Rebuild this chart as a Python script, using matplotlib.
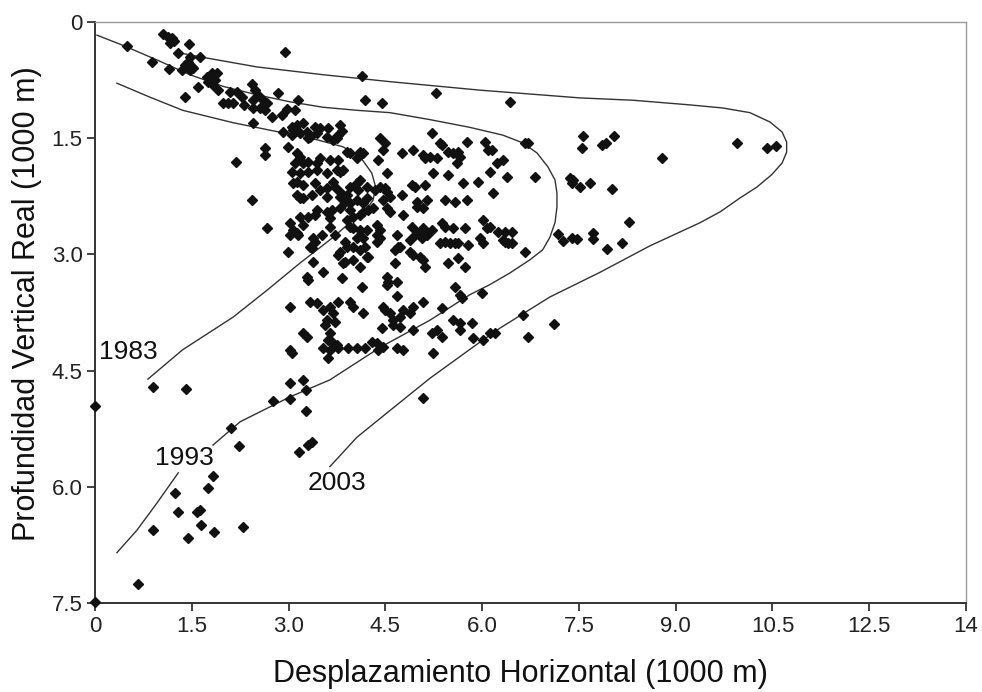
import matplotlib
matplotlib.use("Agg")
import matplotlib.pyplot as plt

plt.rcParams['font.family'] = ['Liberation Sans', 'DejaVu Sans']

# ---- data (horizontal displacement, true vertical depth), units of 1000 m ----
wells_shallow = [
    (0.50, 0.31), (0.88, 0.52), (1.15, 0.61), (1.05, 0.15), (1.13, 0.19), (1.19, 0.21),
    (1.22, 0.25), (1.16, 0.27), (1.46, 0.28), (1.29, 0.40), (1.47, 0.45), (1.44, 0.52),
    (1.39, 0.56), (1.50, 0.58), (1.35, 0.62), (1.47, 0.62), (1.52, 0.59), (1.63, 0.45),
    (2.94, 0.39), (1.39, 0.97), (1.60, 0.84), (1.74, 0.71), (1.81, 0.66), (1.89, 0.66),
    (1.75, 0.77), (1.83, 0.81), (1.91, 0.88), (1.86, 0.75), (1.98, 1.05), (2.06, 1.05),
    (2.14, 1.05), (2.09, 0.90), (2.20, 0.90), (2.28, 0.97), (2.43, 0.80), (2.48, 0.88),
    (2.53, 0.94), (2.45, 1.01), (2.60, 1.01), (2.67, 1.05), (2.45, 1.11), (2.56, 1.11),
    (2.63, 1.14), (2.31, 1.07), (2.45, 1.30), (2.74, 1.23), (2.90, 1.20), (2.98, 1.12),
    (3.10, 1.14), (2.84, 0.92), (3.15, 1.01), (4.14, 0.70), (4.18, 1.01), (4.45, 1.05),
    (5.28, 0.92), (6.43, 1.03),
]

wells_core_upper = [
    (3.05, 1.36), (3.13, 1.33), (3.22, 1.30), (3.07, 1.39), (3.18, 1.43), (3.29, 1.42),
    (3.33, 1.48), (3.41, 1.36), (3.49, 1.37), (3.61, 1.37), (3.80, 1.33), (3.83, 1.41),
    (3.75, 1.50), (2.91, 1.42), (2.99, 1.61), (2.63, 1.63), (2.63, 1.72), (2.19, 1.81),
    (2.43, 2.30), (2.67, 2.66), (4.42, 1.50), (4.49, 1.56), (4.46, 1.65), (3.05, 1.46),
    (3.30, 1.50), (3.44, 1.43), (3.60, 1.48), (3.69, 1.52), (3.77, 1.46), (3.13, 1.69),
    (3.18, 1.74), (3.10, 1.82), (3.22, 1.82), (3.30, 1.81), (3.44, 1.82), (3.49, 1.76),
    (3.64, 1.78), (3.77, 1.78), (3.91, 1.68), (3.95, 1.69), (4.11, 1.68), (4.15, 1.69),
    (4.06, 1.76), (4.39, 1.78), (4.53, 1.95), (3.05, 1.94), (3.18, 1.95), (3.30, 1.94),
    (3.44, 1.91), (3.60, 1.95), (3.75, 1.91), (3.80, 1.94), (3.84, 1.91), (4.11, 2.04),
    (4.06, 2.08), (4.22, 2.13), (4.08, 2.17), (3.07, 2.08), (3.13, 2.07), (3.22, 2.10),
    (3.41, 2.08), (3.49, 2.17), (3.60, 2.14), (3.69, 2.07), (3.72, 2.13), (3.80, 2.19),
    (3.91, 2.23), (3.95, 2.13), (4.34, 2.17), (4.42, 2.13), (4.49, 2.14), (4.53, 2.19),
    (4.57, 2.26), (4.46, 2.30), (3.13, 2.23), (3.18, 2.27), (3.22, 2.27), (3.36, 2.23),
    (3.60, 2.26), (3.80, 2.26), (3.87, 2.32), (3.95, 2.34), (4.06, 2.30), (4.15, 2.34),
    (4.22, 2.27),
]

wells_core_lower = [
    (3.44, 2.43), (3.60, 2.45), (3.67, 2.43), (3.80, 2.40), (3.95, 2.43), (4.15, 2.45),
    (4.23, 2.43), (4.31, 2.40), (4.53, 2.40), (4.57, 2.45), (3.18, 2.52), (3.30, 2.52),
    (3.41, 2.49), (3.64, 2.53), (3.91, 2.56), (4.00, 2.52), (4.11, 2.49), (3.02, 2.59),
    (3.07, 2.68), (3.13, 2.72), (3.22, 2.62), (3.64, 2.65), (3.95, 2.65), (4.00, 2.66),
    (4.11, 2.68), (4.22, 2.68), (4.37, 2.62), (4.42, 2.68), (3.02, 2.75), (3.15, 2.75),
    (3.38, 2.79), (3.41, 2.84), (3.52, 2.75), (3.72, 2.75), (3.87, 2.84), (4.06, 2.79),
    (4.15, 2.79), (4.37, 2.75), (4.37, 2.84), (4.42, 2.79), (2.99, 2.97), (3.33, 2.90),
    (3.36, 2.92), (3.80, 2.97), (3.91, 2.90), (4.00, 2.90), (4.11, 2.94), (4.18, 2.90),
    (4.22, 3.03), (3.38, 3.10), (3.77, 3.01), (3.84, 3.11), (4.00, 3.07), (4.11, 3.16),
    (4.23, 3.03), (3.87, 3.10), (3.29, 3.29), (3.30, 3.33), (3.53, 3.23), (3.83, 3.30),
    (4.14, 3.42),
]

wells_mid = [
    (5.22, 1.43), (5.35, 1.56), (4.76, 1.69), (4.93, 1.65), (5.08, 1.72), (5.11, 1.76),
    (5.38, 1.59), (5.47, 1.68), (5.55, 1.69), (5.63, 1.68), (5.66, 1.74), (5.61, 1.82),
    (5.76, 1.55), (6.04, 1.55), (6.09, 1.65), (6.15, 1.65), (6.23, 1.82), (6.32, 1.78),
    (6.38, 2.00), (6.66, 1.56), (6.71, 1.56), (6.82, 2.00), (5.19, 1.74), (5.30, 1.76),
    (5.24, 1.95), (5.47, 1.97), (5.70, 2.08), (5.94, 2.07), (6.12, 1.94), (6.17, 2.21),
    (4.91, 2.10), (4.96, 2.13), (5.11, 2.10), (4.76, 2.23), (4.99, 2.32), (5.14, 2.30),
    (4.99, 2.39), (5.08, 2.40), (5.42, 2.30), (5.58, 2.32), (5.76, 2.30), (4.77, 2.49),
    (4.91, 2.65), (5.08, 2.66), (5.22, 2.68), (4.99, 2.72), (5.11, 2.75), (5.38, 2.59),
    (5.42, 2.65), (5.55, 2.66), (5.73, 2.66), (6.01, 2.56), (6.07, 2.66), (6.12, 2.65),
    (6.25, 2.71), (6.35, 2.71), (6.46, 2.71), (4.68, 2.75), (4.73, 2.90), (4.88, 2.81),
    (4.96, 2.75), (5.07, 2.79), (5.14, 2.75), (5.35, 2.85), (5.42, 2.84), (5.50, 2.85),
    (5.58, 2.85), (5.63, 2.85), (5.78, 2.88), (5.97, 2.79), (6.01, 2.85), (6.32, 2.81),
    (6.40, 2.85), (6.35, 2.84), (6.46, 2.85), (4.65, 2.94), (4.70, 2.90), (4.88, 2.97),
    (4.93, 3.01), (5.04, 3.03), (5.08, 3.07), (5.11, 3.16), (5.47, 3.11), (5.63, 3.05),
    (5.73, 3.16), (6.66, 2.97), (4.65, 3.11), (4.53, 3.29), (4.54, 3.36), (4.53, 3.39),
    (4.68, 3.36), (4.68, 3.54), (5.58, 3.42), (5.66, 3.52), (5.69, 3.56), (6.00, 3.50),
]

wells_lower = [
    (3.02, 3.68), (3.33, 3.61), (3.44, 3.63), (3.53, 3.72), (3.64, 3.68), (3.77, 3.61),
    (3.95, 3.61), (4.00, 3.68), (4.15, 3.76), (3.69, 3.76), (3.60, 3.85), (3.72, 3.87),
    (3.56, 3.91), (4.46, 3.68), (4.49, 3.72), (4.57, 3.76), (4.62, 3.85), (4.73, 3.81),
    (4.77, 3.72), (4.88, 3.76), (4.93, 3.68), (5.08, 3.61), (5.38, 3.69), (4.62, 3.91),
    (4.45, 3.95), (4.73, 3.94), (4.93, 3.98), (5.55, 3.85), (5.66, 3.89), (5.84, 3.89),
    (5.66, 3.98), (5.86, 4.08), (6.12, 4.01), (6.20, 4.01), (3.22, 4.01), (3.29, 4.07),
    (3.64, 4.01), (3.61, 4.10), (3.67, 4.13), (3.75, 4.17), (3.53, 4.21), (3.64, 4.23),
    (3.77, 4.21), (3.92, 4.21), (4.06, 4.21), (4.18, 4.21), (4.29, 4.13), (4.37, 4.14),
    (4.39, 4.23), (4.46, 4.20), (4.68, 4.21), (4.77, 4.23), (5.22, 4.01), (5.30, 3.98),
    (5.38, 4.07), (5.24, 4.27), (3.02, 4.23), (3.05, 4.27), (3.61, 4.34), (6.01, 4.10),
    (6.63, 3.78), (6.71, 4.07), (7.11, 3.90), (5.08, 4.85),
]

wells_deep = [
    (0.90, 4.71), (1.41, 4.74), (0.00, 4.96), (2.11, 5.24), (2.23, 5.47), (2.76, 4.89),
    (3.02, 4.87), (3.02, 4.66), (3.22, 4.62), (3.27, 4.75), (3.27, 5.02), (3.16, 5.55),
    (3.30, 5.46), (3.36, 5.42), (1.83, 5.86), (1.75, 6.02), (1.24, 6.08), (1.29, 6.33),
    (1.58, 6.33), (1.62, 6.30), (1.64, 6.49), (0.90, 6.56), (1.44, 6.66), (1.84, 6.58),
    (2.29, 6.52), (0.67, 7.25), (0.00, 7.49),
]

wells_far = [
    (7.56, 1.47), (7.55, 1.63), (7.86, 1.59), (7.92, 1.56), (8.04, 1.47), (8.79, 1.76),
    (9.95, 1.56), (10.41, 1.63), (10.55, 1.60), (7.36, 2.01), (7.41, 2.04), (7.39, 2.08),
    (7.52, 2.13), (7.67, 2.08), (8.01, 2.16), (8.28, 2.58), (7.17, 2.74), (7.25, 2.83),
    (7.39, 2.79), (7.47, 2.80), (7.72, 2.72), (7.72, 2.80), (7.93, 2.93), (8.17, 2.85),
]

# envelope curves
env1983_x = [0.34, 0.85, 1.36, 2.14, 2.91, 3.44, 3.84, 4.11, 4.29, 4.35, 4.31, 4.18,
             3.95, 3.69, 3.18, 2.67, 2.14, 1.36, 0.82]
env1983_y = [0.79, 0.97, 1.14, 1.30, 1.43, 1.52, 1.61, 1.74, 1.95, 2.13, 2.30, 2.45,
             2.59, 2.78, 3.11, 3.46, 3.81, 4.23, 4.61]

env1993_x = [0.03, 0.43, 0.96, 1.47, 1.98, 2.51, 3.02, 3.53, 4.06, 4.57, 5.19, 5.81,
             6.32, 6.63, 6.85, 7.02, 7.13, 7.16, 7.16, 7.13, 7.05, 6.94, 6.74, 6.43,
             6.12, 5.81, 5.19, 4.42, 3.64, 3.02, 2.25, 1.83]
env1993_y = [0.17, 0.30, 0.49, 0.68, 0.83, 0.94, 1.03, 1.10, 1.14, 1.17, 1.26, 1.36,
             1.46, 1.56, 1.69, 1.87, 2.04, 2.21, 2.39, 2.59, 2.78, 2.94, 3.07, 3.24,
             3.39, 3.52, 3.85, 4.20, 4.62, 4.84, 5.16, 5.46]
env1993_tail_x = [1.29, 0.96, 0.65, 0.34]
env1993_tail_y = [5.82, 6.21, 6.56, 6.85]

env2003_x = [1.32, 1.63, 2.51, 3.53, 4.57, 5.97, 7.52, 8.34, 9.22, 9.73, 10.15, 10.46,
             10.65, 10.72, 10.72, 10.65, 10.49, 10.26, 10.00, 9.69, 9.38, 8.60, 7.83,
             7.05, 6.28, 5.97, 5.19, 4.49, 4.06, 3.64]
env2003_y = [0.40, 0.45, 0.58, 0.68, 0.77, 0.88, 0.98, 1.01, 1.07, 1.11, 1.17, 1.29,
             1.42, 1.55, 1.68, 1.82, 1.97, 2.13, 2.27, 2.45, 2.59, 2.89, 3.23, 3.55,
             3.95, 4.13, 4.60, 5.07, 5.36, 5.74]

year_labels = ["1983", "1993", "2003"]
year_label_pos = [(0.06, 4.26), (0.93, 5.63), (3.30, 5.95)]

x_ticks = [0, 1.5, 3.0, 4.5, 6.0, 7.5, 9.0, 10.5, 12.0, 13.5]
x_tick_labels = ["0", "1.5", "3.0", "4.5", "6.0", "7.5", "9.0", "10.5", "12.5", "14"]
y_ticks = [0, 1.5, 3.0, 4.5, 6.0, 7.5]
y_tick_labels = ["0", "1.5", "3.0", "4.5", "6.0", "7.5"]

# ---- plot ----
fig = plt.figure(figsize=(9.82, 6.92), dpi=100)
ax = fig.add_axes([95 / 982, 1 - 603 / 692, (966 - 95) / 982, (603 - 22) / 692])

line_kw = dict(color="#333333", lw=1.0, solid_joinstyle="round")
ax.plot(env1983_x, env1983_y, **line_kw)
ax.plot(env1993_x, env1993_y, **line_kw)
ax.plot(env1993_tail_x, env1993_tail_y, **line_kw)
ax.plot(env2003_x, env2003_y, **line_kw)

for group in [wells_shallow, wells_core_upper, wells_core_lower, wells_mid,
              wells_lower, wells_deep, wells_far]:
    xs = [p[0] for p in group]
    ys = [p[1] for p in group]
    ax.plot(xs, ys, linestyle="none", marker="D", markersize=4.6,
            color="#111111", clip_on=False, zorder=3)

for txt, (tx, ty) in zip(year_labels, year_label_pos):
    ax.text(tx, ty, txt, fontsize=19, ha="left", va="center", color="#111111")

ax.set_xlim(0, 13.5)
ax.set_ylim(7.5, 0)
ax.set_xticks(x_ticks)
ax.set_xticklabels(x_tick_labels)
ax.set_yticks(y_ticks)
ax.set_yticklabels(y_tick_labels)
ax.tick_params(axis="both", direction="out", length=6, width=1.2, labelsize=16,
               colors="#222222", pad=3)

for s in ["left", "bottom"]:
    ax.spines[s].set_color("#333333")
    ax.spines[s].set_linewidth(1.4)
for s in ["top", "right"]:
    ax.spines[s].set_color("#9a9a9a")
    ax.spines[s].set_linewidth(1.0)

ax.set_xlabel("Desplazamiento Horizontal (1000 m)", fontsize=22, labelpad=16,
              color="#111111")
ax.set_ylabel("Profundidad Vertical Real (1000 m)", fontsize=22, labelpad=7,
              color="#111111")
ax.xaxis.label.set_x(0.489)
ax.yaxis.label.set_y(0.516)

fig.savefig("out.png", dpi=100)
